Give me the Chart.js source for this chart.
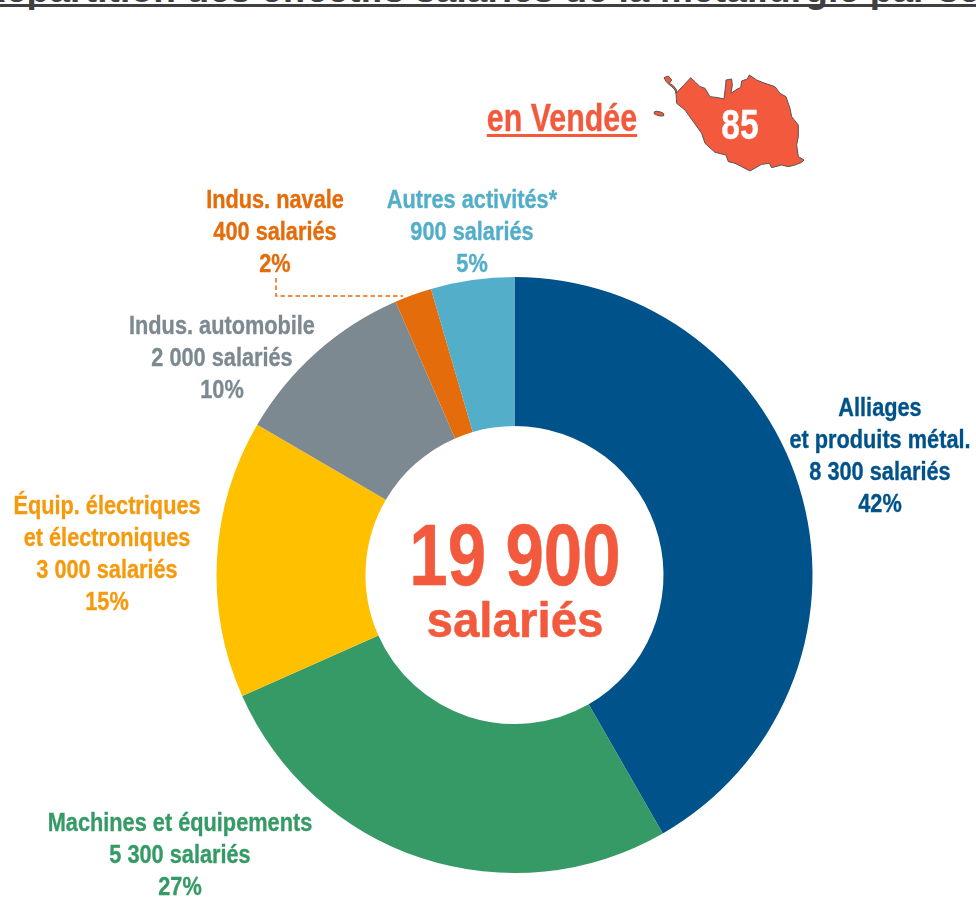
<!DOCTYPE html>
<html lang="fr">
<head>
<meta charset="utf-8">
<title>Répartition des effectifs salariés de la métallurgie par secteur</title>
<script src="https://cdn.jsdelivr.net/npm/chart.js@4/dist/chart.umd.min.js"></script>
<style>
html, body { margin: 0; padding: 0; background: #fff; }
body { position: relative; width: 976px; height: 897px; overflow: hidden; font-family: "Liberation Sans", Arial, sans-serif; font-weight: bold; }
#chart { position: absolute; left: 0; top: 0; }
#overlay { position: absolute; left: 0; top: 0; }
.lbl { position: absolute; transform: translateX(-50%) scaleX(.82); text-align: center; white-space: nowrap; font-size: 26.5px; line-height: 32px; -webkit-text-stroke: .35px currentColor; }
#title { position: absolute; left: -21px; top: -30px; font-size: 37px; line-height: 40px; color: #404040; white-space: nowrap; letter-spacing: 0.16px; text-decoration: underline; text-decoration-thickness: 3px; text-underline-offset: 2px; text-decoration-skip-ink: none; }
#region { position: absolute; left: 561.5px; top: 98px; transform: translateX(-50%) scaleX(.8); font-size: 38px; line-height: 40px; color: #f2593d; text-decoration: underline; text-decoration-thickness: 3px; text-underline-offset: 3px; text-decoration-skip-ink: none; white-space: nowrap; -webkit-text-stroke: .35px currentColor; }
#dept { position: absolute; left: 739.5px; top: 103px; transform: translateX(-50%) scaleX(.8); font-size: 42px; line-height: 44px; color: #fff; -webkit-text-stroke: .35px currentColor; }
#total-n, #total-u { position: absolute; left: 515px; transform: translateX(-50%) scaleX(.785); color: #f2593d; white-space: nowrap; -webkit-text-stroke: .5px currentColor; }
#total-n { top: 511px; font-size: 88px; line-height: 88px; }
#total-u { top: 595px; font-size: 50px; line-height: 50px; transform: translateX(-50%) scaleX(.95); }
</style>
</head>
<body>
<div id="title">Répartition des effectifs salariés de la métallurgie par secteur</div>
<canvas id="chart" width="976" height="897"></canvas>
<svg id="overlay" width="976" height="897">
  <path d="M276 278V296H403" fill="none" stroke="#e46c0a" stroke-width="1.5" stroke-dasharray="4.5 3"/>
  <g transform="translate(650 65) scale(.3333)" fill="#f2593d" stroke="#555" stroke-width="3">
    <path d="M42 38L55 33 65 45 58 55 70 62 80 75 78 85 100 62 122 38 135 50 150 65 165 70 180 95 205 98 222 102 227 60 228 45 245 42 247 60 243 85 262 72 272 68 275 48 292 42 298 30 320 45 345 55 375 65 390 85 408 95 420 130 425 155 445 180 445 215 440 240 445 275 462 285 455 292 435 300 415 305 395 300 365 308 358 295 335 298 300 318 275 305 255 295 235 290 228 270 195 262 165 235 155 205 130 170 105 135 80 115 78 85 75 75 65 65 50 52Z"/>
    <ellipse cx="27" cy="146" rx="15" ry="6" transform="rotate(15 27 146)"/>
  </g>
</svg>
<div id="region">en Vendée</div>
<div id="dept">85</div>
<div id="total-n">19 900</div>
<div id="total-u">salariés</div>
<script>
// Data
const categories = ['Alliages|et produits métal.', 'Machines et équipements', 'Équip. électriques|et électroniques', 'Indus. automobile', 'Indus. navale', 'Autres activités*'];
const salaries = [8300, 5300, 3000, 2000, 400, 900];
const salaryLabels = ['8 300', '5 300', '3 000', '2 000', '400', '900'];
const shares = [42, 27, 15, 10, 2, 5];
const sliceColors = ['#00528a', '#359a66', '#ffc000', '#7c8991', '#e46c0a', '#52aec9'];
const textColors = ['#00528a', '#359a66', '#f59a0e', '#7c8991', '#e46c0a', '#52aec9'];

// Label anchors: centre x and top y of each block
const labelAnchors = [[880, 391], [180, 806], [107, 489], [222, 309], [275, 183], [472, 183]];

new Chart(document.getElementById('chart').getContext('2d'), {
    type: 'doughnut',
    data: {
        labels: categories.map(c => c.replace('|', ' ')),
        datasets: [{
            data: salaries,
            backgroundColor: sliceColors,
            borderWidth: 0
        }]
    },
    options: {
        responsive: false,
        animation: false,
        cutout: '50%',
        layout: { padding: { left: 216.5, right: 163.5, top: 277, bottom: 24 } },
        plugins: { legend: { display: false }, tooltip: { enabled: false } }
    }
});

categories.forEach((cat, i) => {
    const el = document.createElement('div');
    el.className = 'lbl';
    el.style.left = labelAnchors[i][0] + 'px';
    el.style.top = labelAnchors[i][1] + 'px';
    el.style.color = textColors[i];
    el.innerHTML = cat.split('|').join('<br>') + '<br>' + salaryLabels[i] + ' salariés<br>' + shares[i] + '%';
    document.body.appendChild(el);
});
</script>
</body>
</html>
